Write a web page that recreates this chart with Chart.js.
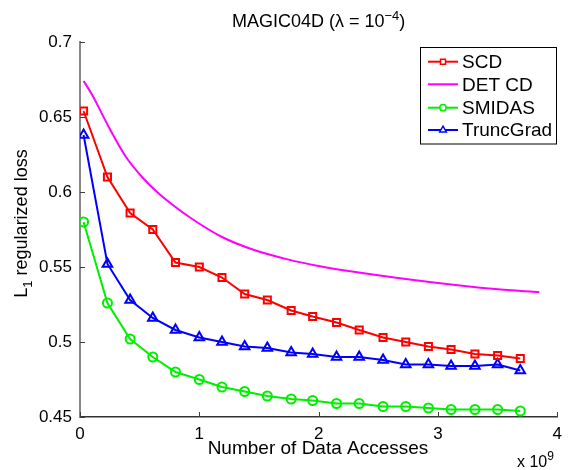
<!DOCTYPE html>
<html>
<head>
<meta charset="utf-8">
<script src="https://cdn.jsdelivr.net/npm/chart.js@4/dist/chart.umd.min.js"></script>
<style>
  body { margin: 0; background: #fff; }
  .chart__wrapper { width: 569px; height: 470px; position: relative; }
</style>
</head>
<body>
<div class="chart__wrapper"><canvas id="magic-chart"></canvas></div>
<script>
  // number of data accesses (x 10^9) where the markers sit
  const accesses = [0.03, 0.23, 0.42, 0.61, 0.80, 1.00, 1.19, 1.38, 1.57, 1.77,
                    1.95, 2.15, 2.34, 2.54, 2.73, 2.92, 3.11, 3.31, 3.50, 3.69];
  const scdLoss = [0.654, 0.610, 0.586, 0.575, 0.553, 0.550, 0.543, 0.532, 0.528, 0.521,
                   0.517, 0.513, 0.508, 0.503, 0.500, 0.497, 0.495, 0.492, 0.491, 0.489];
  const smidasLoss = [0.580, 0.526, 0.502, 0.490, 0.480, 0.475, 0.470, 0.467, 0.464, 0.462,
                      0.461, 0.459, 0.459, 0.457, 0.457, 0.456, 0.455, 0.455, 0.455, 0.454];
  const truncGradLoss = [0.638, 0.552, 0.528, 0.516, 0.508, 0.503, 0.500, 0.497, 0.496, 0.493,
                         0.492, 0.490, 0.490, 0.488, 0.485, 0.485, 0.484, 0.484, 0.485, 0.481];
  // deterministic CD is a smooth curve, sampled here
  const detAccesses = [0.03, 0.10, 0.25, 0.38, 0.52, 0.66, 0.80, 0.94, 1.19,
                       1.46, 1.74, 2.00, 2.38, 2.93, 3.48, 3.85];
  const detLoss = [0.674, 0.665, 0.642, 0.624, 0.610, 0.599, 0.590, 0.582, 0.570,
                   0.5613, 0.5551, 0.5507, 0.5458, 0.540, 0.5353, 0.5331];
  const xTicks = [0, 1, 2, 3, 4];
  const yTicks = [0.45, 0.5, 0.55, 0.6, 0.65, 0.7];

  const FONT = "'Liberation Sans', Arial, Helvetica, sans-serif";
  Chart.defaults.font.family = FONT;
  Chart.defaults.color = "#000";

  const toPoints = (xs, ys) => xs.map((x, i) => ({ x: x, y: ys[i] }));

  function drawText(ctx, parts, x, y) {
    // parts: [text, size, raise]
    let cx = x;
    parts.forEach(([text, size, raise]) => {
      ctx.font = size + "px " + FONT;
      ctx.fillText(text, cx, y - raise);
      cx += ctx.measureText(text).width;
    });
    return cx - x;
  }
  function measureParts(ctx, parts) {
    let w = 0;
    parts.forEach(([text, size]) => {
      ctx.font = size + "px " + FONT;
      w += ctx.measureText(text).width;
    });
    return w;
  }

  const decorations = {
    id: "decorations",
    afterDraw(chart) {
      const { ctx, chartArea: a, scales } = chart;
      const x = scales.x, y = scales.y;
      ctx.save();

      // inward tick marks, matlab style
      ctx.strokeStyle = "#404040";
      ctx.lineWidth = 1;
      ctx.beginPath();
      y.ticks.forEach((t) => {
        const py = Math.round(y.getPixelForValue(t.value)) + 0.5;
        ctx.moveTo(a.left, py);
        ctx.lineTo(a.left + 5, py);
      });
      x.ticks.forEach((t) => {
        const px = Math.round(x.getPixelForValue(t.value)) + 0.5;
        ctx.moveTo(px, a.bottom);
        ctx.lineTo(px, a.bottom - 5);
      });
      ctx.stroke();

      ctx.fillStyle = "#000";
      ctx.textBaseline = "alphabetic";
      ctx.textAlign = "left";

      // title with superscript
      const title = [["MAGIC04D (\u03bb = 10", 18, 0], ["\u22124", 13, 7], [")", 18, 0]];
      const tw = measureParts(ctx, title);
      drawText(ctx, title, (a.left + a.right) / 2 - tw / 2, 27);

      // x label
      ctx.font = "19px " + FONT;
      ctx.textAlign = "center";
      ctx.fillText("Number of Data Accesses", 318, 454);
      ctx.textAlign = "left";

      // exponent
      drawText(ctx, [["x 10", 16, 0], ["9", 12, 7]], 517, 467);

      // y label with subscript, rotated
      const ylab = [["L", 18, 0], ["1", 13, -5], [" regularized loss", 18, 0]];
      const yw = measureParts(ctx, ylab);
      ctx.save();
      ctx.translate(27, 223.5);
      ctx.rotate(-Math.PI / 2);
      drawText(ctx, ylab, -yw / 2, 0);
      ctx.restore();

      // legend box inside the axes
      const box = { left: 420.5, top: 47.5, right: 556.5, bottom: 144 };
      ctx.fillStyle = "#fff";
      ctx.fillRect(box.left, box.top, box.right - box.left, box.bottom - box.top);
      ctx.strokeStyle = "#000";
      ctx.lineWidth = 1;
      ctx.strokeRect(box.left, box.top, box.right - box.left, box.bottom - box.top);
      const rows = [61.7, 84.3, 107.7, 130];
      chart.data.datasets.forEach((ds, i) => {
        const ry = rows[i];
        ctx.strokeStyle = ds.borderColor;
        ctx.lineWidth = 2;
        ctx.beginPath();
        ctx.moveTo(428, ry);
        ctx.lineTo(458, ry);
        ctx.stroke();
        if (ds.pointRadius > 0) {
          ctx.fillStyle = "#fff";
          ctx.lineWidth = 1.5;
          Chart.helpers.drawPoint(ctx, {
            pointStyle: ds.pointStyle,
            radius: ds.pointRadius * 0.7,
            borderWidth: 1.5,
            rotation: 0
          }, 443, ry);
        }
        ctx.fillStyle = "#000";
        ctx.font = "19px " + FONT;
        ctx.textBaseline = "middle";
        ctx.fillText(ds.label, 462, ry + 1);
        ctx.textBaseline = "alphabetic";
      });

      ctx.restore();
    }
  };

  const markerStyle = (color, style, radius) => ({
    borderColor: color,
    backgroundColor: color,
    borderWidth: 2,
    pointStyle: style,
    pointRadius: radius,
    pointBorderColor: color,
    pointBackgroundColor: "rgba(255,255,255,0)",
    pointBorderWidth: 2,
    tension: 0
  });

  new Chart(document.getElementById("magic-chart").getContext("2d"), {
    type: "line",
    data: {
      datasets: [
        Object.assign({ label: "SCD", data: toPoints(accesses, scdLoss) },
          markerStyle("#ff0000", "rect", 5)),
        {
          label: "DET CD",
          data: toPoints(detAccesses, detLoss),
          borderColor: "#ff00ff",
          backgroundColor: "#ff00ff",
          borderWidth: 2,
          pointRadius: 0,
          cubicInterpolationMode: "monotone"
        },
        Object.assign({ label: "SMIDAS", data: toPoints(accesses, smidasLoss) },
          markerStyle("#00ee00", "circle", 4.5)),
        Object.assign({ label: "TruncGrad", data: toPoints(accesses, truncGradLoss) },
          markerStyle("#0000ff", "triangle", 5.5))
      ]
    },
    options: {
      responsive: true,
      maintainAspectRatio: false,
      animation: false,
      layout: { padding: { top: 42, right: 6.5, left: 0, bottom: 0 } },
      scales: {
        x: {
          type: "linear",
          min: 0,
          max: 4,
          afterFit: (s) => { s.height = 53; },
          afterBuildTicks: (s) => { s.ticks = xTicks.map((v) => ({ value: v })); },
          grid: { display: false, drawTicks: false },
          border: { display: true, color: "#333", width: 1.5 },
          ticks: { font: { size: 17 }, padding: 7, color: "#000", maxRotation: 0 }
        },
        y: {
          type: "linear",
          min: 0.45,
          max: 0.7,
          afterFit: (s) => { s.width = 80; },
          afterBuildTicks: (s) => { s.ticks = yTicks.map((v) => ({ value: v })); },
          grid: { display: false, drawTicks: false },
          border: { display: true, color: "#888", width: 2 },
          ticks: {
            font: { size: 17 },
            padding: 8,
            color: "#000",
            callback: (v) => String(+v.toFixed(2))
          }
        }
      },
      plugins: {
        legend: { display: false },
        title: { display: false },
        tooltip: { enabled: false }
      }
    },
    plugins: [decorations]
  });
</script>
</body>
</html>
